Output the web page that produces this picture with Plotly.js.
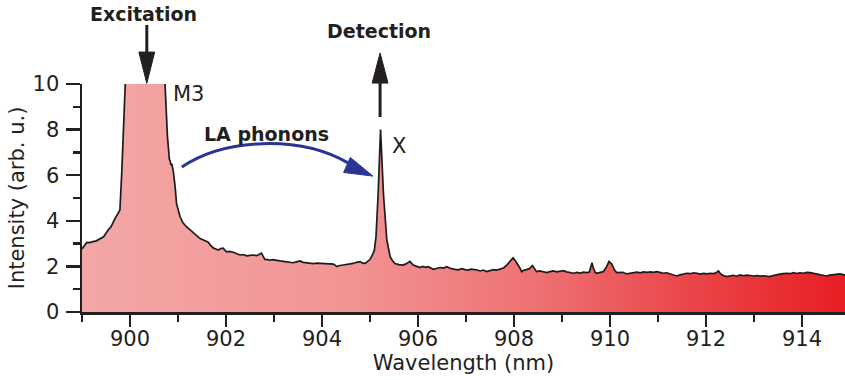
<!DOCTYPE html>
<html>
<head>
<meta charset="utf-8">
<script src="https://cdn.plot.ly/plotly-3.0.1.min.js"></script>
<style>
  html, body { margin: 0; padding: 0; background: #fff; }
  #chart { width: 845px; height: 380px; }
</style>
</head>
<body>
<div id="chart"></div>
<script>
// Photoluminescence spectrum: wavelength (nm) and intensity (arb. u.)
const wavelength = [
  899.00, 899.05, 899.10, 899.15, 899.20, 899.25, 899.30, 899.35, 899.40, 899.45,
  899.50, 899.55, 899.60, 899.65, 899.70, 899.75, 899.79, 899.83, 899.86, 899.90,
  900.00, 900.15, 900.35, 900.50, 900.62, 900.69, 900.73, 900.78, 900.82, 900.84,
  900.85, 900.87, 900.90, 900.94, 900.97, 901.04, 901.10, 901.17, 901.25, 901.32,
  901.39, 901.46, 901.53, 901.58, 901.63, 901.68, 901.74, 901.79, 901.84, 901.89,
  901.94, 902.01, 902.08, 902.15, 902.22, 902.29, 902.36, 902.43, 902.50, 902.57,
  902.64, 902.71, 902.74, 902.78, 902.81, 902.87, 902.92, 902.97, 903.02, 903.07,
  903.125, 903.19, 903.26, 903.33, 903.40, 903.47, 903.54, 903.61, 903.68, 903.75,
  903.82, 903.89, 903.96, 904.03, 904.10, 904.17, 904.24, 904.31, 904.37, 904.44,
  904.51, 904.58, 904.65, 904.72, 904.79, 904.85, 904.90, 904.95, 905.00, 905.05,
  905.09, 905.125, 905.17, 905.22, 905.28, 905.35, 905.42, 905.47, 905.52, 905.60,
  905.69, 905.76, 905.83, 905.90, 905.97, 906.04, 906.10, 906.16, 906.21, 906.27,
  906.32, 906.40, 906.47, 906.53, 906.60, 906.67, 906.72, 906.77, 906.84, 906.91,
  906.98, 907.05, 907.10, 907.15, 907.22, 907.29, 907.36, 907.43, 907.50, 907.57,
  907.64, 907.71, 907.78, 907.85, 907.92, 907.98, 908.03, 908.09, 908.13, 908.16,
  908.21, 908.26, 908.32, 908.385, 908.43, 908.47, 908.54, 908.61, 908.68, 908.75,
  908.82, 908.89, 908.96, 909.03, 909.10, 909.17, 909.24, 909.31, 909.38, 909.45,
  909.51, 909.57, 909.60, 909.625, 909.65, 909.69, 909.72, 909.79, 909.86, 909.92,
  909.98, 910.04, 910.09, 910.14, 910.20, 910.27, 910.35, 910.42, 910.49, 910.56,
  910.63, 910.70, 910.77, 910.84, 910.91, 910.97, 911.04, 911.11, 911.18, 911.25,
  911.32, 911.39, 911.46, 911.53, 911.60, 911.67, 911.74, 911.81, 911.88, 911.95,
  912.02, 912.09, 912.16, 912.22, 912.26, 912.30, 912.36, 912.43, 912.50, 912.57,
  912.64, 912.71, 912.78, 912.85, 912.92, 912.99, 913.06, 913.13, 913.20, 913.27,
  913.33, 913.40, 913.47, 913.54, 913.61, 913.68, 913.75, 913.82, 913.89, 913.96,
  914.03, 914.10, 914.17, 914.24, 914.31, 914.38, 914.45, 914.51, 914.58, 914.65,
  914.72, 914.79, 914.86, 914.90
];
const intensity = [
  2.76, 2.90, 3.05, 3.04, 3.08, 3.10, 3.12, 3.18, 3.22, 3.30,
  3.45, 3.62, 3.72, 3.95, 4.15, 4.32, 4.47, 6.20, 8.00, 10.30,
  16.0, 26.0, 34.0, 28.0, 18.0, 12.5, 10.0, 7.70, 6.70, 6.60,
  6.45, 6.50, 6.20, 5.50, 4.75, 4.20, 3.92, 3.75, 3.60, 3.45,
  3.32, 3.22, 3.16, 3.10, 3.06, 2.92, 2.80, 2.76, 2.72, 2.78,
  2.80, 2.64, 2.66, 2.62, 2.56, 2.50, 2.52, 2.46, 2.48, 2.50,
  2.47, 2.54, 2.58, 2.42, 2.31, 2.30, 2.27, 2.30, 2.27, 2.25,
  2.24, 2.22, 2.21, 2.19, 2.16, 2.20, 2.24, 2.18, 2.16, 2.15,
  2.12, 2.14, 2.13, 2.11, 2.10, 2.12, 2.10, 1.99, 2.04, 2.06,
  2.08, 2.10, 2.13, 2.18, 2.21, 2.14, 2.13, 2.22, 2.30, 2.50,
  2.70, 3.30, 5.20, 8.00, 5.20, 3.16, 2.43, 2.25, 2.13, 2.08,
  2.06, 2.12, 2.22, 2.06, 1.99, 1.95, 2.00, 1.96, 1.99, 1.92,
  1.87, 1.92, 1.95, 1.93, 1.99, 1.92, 1.88, 1.87, 1.85, 1.90,
  1.86, 1.84, 1.88, 1.87, 1.85, 1.80, 1.84, 1.77, 1.82, 1.86,
  1.84, 1.87, 1.93, 2.06, 2.25, 2.38, 2.25, 2.06, 1.90, 1.77,
  1.84, 1.86, 1.90, 2.04, 1.88, 1.77, 1.80, 1.75, 1.73, 1.77,
  1.80, 1.76, 1.79, 1.81, 1.76, 1.72, 1.70, 1.74, 1.71, 1.75,
  1.73, 1.75, 1.95, 2.16, 1.95, 1.74, 1.70, 1.74, 1.77, 1.95,
  2.22, 2.10, 1.85, 1.73, 1.72, 1.74, 1.67, 1.70, 1.73, 1.75,
  1.72, 1.76, 1.74, 1.76, 1.74, 1.77, 1.74, 1.70, 1.72, 1.68,
  1.64, 1.58, 1.63, 1.66, 1.70, 1.68, 1.72, 1.70, 1.66, 1.69,
  1.67, 1.70, 1.68, 1.74, 1.80, 1.68, 1.60, 1.55, 1.58, 1.61,
  1.57, 1.63, 1.59, 1.62, 1.60, 1.58, 1.60, 1.57, 1.59, 1.56,
  1.55, 1.60, 1.64, 1.66, 1.68, 1.70, 1.68, 1.73, 1.69, 1.72,
  1.70, 1.74, 1.73, 1.70, 1.66, 1.62, 1.60, 1.58, 1.62, 1.64,
  1.63, 1.67, 1.64, 1.62
];

// Axis ticks
const xTicks = [900, 902, 904, 906, 908, 910, 912, 914];
const yTicks = [0, 2, 4, 6, 8, 10];

// Laser line (M3 resonance) and detected X line
const excitationNm = 900.35;
const detectionNm = 905.21;

const ink = '#231f20';
const blue = '#283593';
const font = 'DejaVu Sans, Verdana, sans-serif';

const spectrum = {
  x: wavelength,
  y: intensity,
  type: 'scatter',
  mode: 'lines',
  line: { color: '#1c1c1c', width: 1.7 },
  fill: 'tozeroy',
  fillgradient: {
    type: 'horizontal',
    start: 899,
    stop: 914.9,
    colorscale: [
      [0, '#f4a7a7'],
      [0.35, '#f29494'],
      [0.6, '#ee7072'],
      [0.8, '#ea4549'],
      [1, '#e81e24']
    ]
  },
  hoverinfo: 'skip',
  showlegend: false
};

// Arrow geometry in axis units (x) and paper units (y)
const headHalf = 0.165;
const shapes = [
  // Excitation arrow pointing down onto the M3 peak
  { type: 'line', xref: 'x', yref: 'paper', x0: excitationNm, x1: excitationNm,
    y0: 1.259, y1: 1.14, line: { color: ink, width: 3 } },
  { type: 'path', xref: 'x', yref: 'paper',
    path: `M ${excitationNm - headHalf} 1.14 L ${excitationNm + headHalf} 1.14 L ${excitationNm} 1.003 Z`,
    fillcolor: ink, line: { color: ink, width: 1 } },
  // Detection arrow pointing up from the X peak
  { type: 'line', xref: 'x', yref: 'paper', x0: detectionNm, x1: detectionNm,
    y0: 0.855, y1: 1.01, line: { color: ink, width: 3 } },
  { type: 'path', xref: 'x', yref: 'paper',
    path: `M ${detectionNm - headHalf} 1.004 L ${detectionNm + headHalf} 1.004 L ${detectionNm} 1.136 Z`,
    fillcolor: ink, line: { color: ink, width: 1 } },
  // LA phonon energy transfer (curved arrow)
  { type: 'path', xref: 'x', yref: 'y',
    path: 'M 901.08 6.36 C 901.98 7.63, 903.54 7.76, 904.54 6.54',
    line: { color: blue, width: 3 } },
  { type: 'path', xref: 'x', yref: 'y',
    path: 'M 904.45 6.12 L 905.06 5.96 L 904.59 6.78 Z',
    fillcolor: blue, line: { color: blue, width: 1 } }
];

const annotations = [
  { text: '<b>Excitation</b>', xref: 'x', yref: 'paper', x: 900.28, y: 1.307,
    xanchor: 'center', yanchor: 'middle',
    showarrow: false, font: { family: font, size: 19, color: ink } },
  { text: '<b>Detection</b>', xref: 'x', yref: 'paper', x: 905.19, y: 1.232,
    xanchor: 'center', yanchor: 'middle',
    showarrow: false, font: { family: font, size: 19, color: ink } },
  { text: 'M3', xref: 'x', yref: 'y', x: 901.21, y: 9.56,
    xanchor: 'center', yanchor: 'middle',
    showarrow: false, font: { family: font, size: 21, color: ink } },
  { text: 'X', xref: 'x', yref: 'y', x: 905.6, y: 7.26,
    xanchor: 'center', yanchor: 'middle',
    showarrow: false, font: { family: font, size: 21, color: ink } },
  { text: '<b>LA phonons</b>', xref: 'x', yref: 'y', x: 902.85, y: 7.8,
    xanchor: 'center', yanchor: 'middle',
    showarrow: false, font: { family: font, size: 19, color: ink } }
];

const layout = {
  width: 845,
  height: 380,
  margin: { l: 82, r: 0, t: 84, b: 68 },
  paper_bgcolor: '#fff',
  plot_bgcolor: '#fff',
  font: { family: font, size: 21, color: ink },
  xaxis: {
    range: [899, 914.896],
    tickvals: xTicks,
    ticks: 'outside', ticklen: 12, tickwidth: 2.5, tickcolor: ink,
    minor: { dtick: 1, tick0: 899, ticks: 'outside', ticklen: 7, tickwidth: 2.5, tickcolor: ink },
    showline: true, linewidth: 2.5, linecolor: ink,
    showgrid: false, zeroline: false,
    ticklabelstandoff: -6,
    tickfont: { family: font, size: 21, color: ink },
    title: { text: 'Wavelength (nm)', standoff: 4, font: { family: font, size: 21, color: ink } },
    automargin: false
  },
  yaxis: {
    range: [0, 10],
    tickvals: yTicks,
    ticks: 'outside', ticklen: 14, tickwidth: 2.5, tickcolor: ink,
    minor: { dtick: 1, tick0: 0, ticks: 'outside', ticklen: 7, tickwidth: 2.5, tickcolor: ink },
    showline: true, linewidth: 2.5, linecolor: ink,
    showgrid: false, zeroline: false,
    ticklabelstandoff: 2,
    tickfont: { family: font, size: 21, color: ink },
    title: { text: 'Intensity (arb. u.)', standoff: 2, font: { family: font, size: 21, color: ink } },
    automargin: false
  },
  shapes: shapes,
  annotations: annotations
};

Plotly.newPlot('chart', [spectrum], layout, { displayModeBar: false, staticPlot: true });
</script>
</body>
</html>
